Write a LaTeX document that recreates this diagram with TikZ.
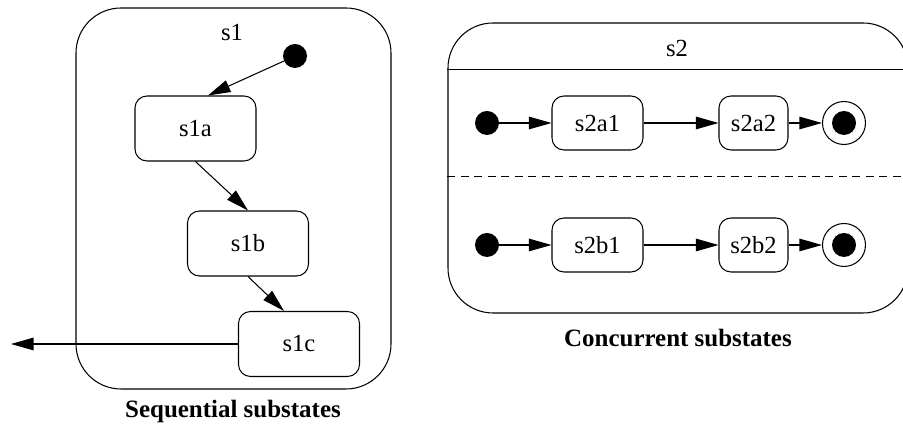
\documentclass[tikz,border=0pt]{standalone}
\usepackage{fontspec}
\setmainfont{Liberation Serif}
\usetikzlibrary{arrows.meta, positioning, shapes.misc}
\tikzset{
	statetext/.style={font=\fontsize{14}{16}\selectfont}
}
\tikzset{
	captiontext/.style={font=\bfseries\fontsize{14.2}{16}\selectfont}
}

\begin{document}
\begin{tikzpicture}
			\tikzset{
				container/.style={
						shape=rectangle,
						rounded corners=9mm,
						draw=black,
						line width=0.6pt,
						inner sep=0pt
					},
				statenode/.style={
						shape=rectangle,
						rounded corners=2.4mm,
						draw=black,
						line width=0.6pt,
						fill=white,
						minimum height=1.08cm,
						inner sep=0pt,
						statetext
					},
				initnode/.style={
						shape=circle,
						fill=black,
						minimum size=4.8mm,
						inner sep=0pt
					},
				finalnode/.style={
						shape=circle,
						draw=black,
						line width=0.6pt,
						minimum size=8.6mm,
						inner sep=0pt,
						path picture={\fill[black] (path picture bounding box.center) circle (2.4mm);}
					},
				flow/.style={
						line width=0.6pt,
						-{Triangle[length=4.5mm,width=2.5mm]}
					}
			}
			\useasboundingbox (0,0) rectangle (18.06,8.58);

			% sequential substates
			\node[container, minimum width=6.3cm, minimum height=7.62cm] (s1) at (4.67,4.61) {};
			\node[statetext] (s1-name) at (4.64,7.92) {s1};
			\node[initnode] (s1-init) at (5.90,7.46) {};
			\node[statenode, minimum width=2.42cm, minimum height=1.3cm] (s1a) at (3.91,6.01) {s1a};
			\node[statenode, minimum width=2.42cm, minimum height=1.3cm] (s1b) at (4.96,3.71) {s1b};
			\node[statenode, minimum width=2.42cm, minimum height=1.3cm] (s1c) at (5.98,1.70) {s1c};
			\coordinate (s1-exit) at (0.22,1.70);
			\node[captiontext] (s1-caption) at (4.66,0.34) {Sequential substates};

			\draw[flow] (s1-init) -- ([xshift=2.5mm]s1a.north);
			\draw[flow] (s1a.south) -- (s1b.north);
			\draw[flow] (s1b.south) -- ([xshift=-3mm]s1c.north);
			\draw[flow] (s1c.west) -- (s1-exit);

			% concurrent substates
			\node[container, minimum width=9.2cm, minimum height=5.8cm] (s2) at (13.56,5.22) {};
			\node[statetext] (s2-name) at (13.54,7.62) {s2};
			\draw[line width=0.6pt] ([yshift=-9.4mm]s2.north west) -- ([yshift=-9.4mm]s2.north east);
			\draw[line width=0.6pt, dash pattern=on 1.6mm off 1.1mm] ([yshift=-30.8mm]s2.north west) -- ([yshift=-30.8mm]s2.north east);

			\node[initnode] (s2a-init) at (9.74,6.12) {};
			\node[statenode, minimum width=1.82cm] (s2a1) at (11.95,6.12) {s2a1};
			\node[statenode, minimum width=1.38cm] (s2a2) at (15.07,6.12) {s2a2};
			\node[finalnode] (s2a-final) at (16.88,6.12) {};

			\node[initnode] (s2b-init) at (9.74,3.68) {};
			\node[statenode, minimum width=1.82cm] (s2b1) at (11.95,3.68) {s2b1};
			\node[statenode, minimum width=1.38cm] (s2b2) at (15.07,3.68) {s2b2};
			\node[finalnode] (s2b-final) at (16.88,3.68) {};

			\node[captiontext] (s2-caption) at (13.56,1.82) {Concurrent substates};

			\draw[flow] (s2a-init) -- (s2a1);
			\draw[flow] (s2a1) -- (s2a2);
			\draw[flow] (s2a2) -- (s2a-final);
			\draw[flow] (s2b-init) -- (s2b1);
			\draw[flow] (s2b1) -- (s2b2);
			\draw[flow] (s2b2) -- (s2b-final);
		\end{tikzpicture}
\end{document}
